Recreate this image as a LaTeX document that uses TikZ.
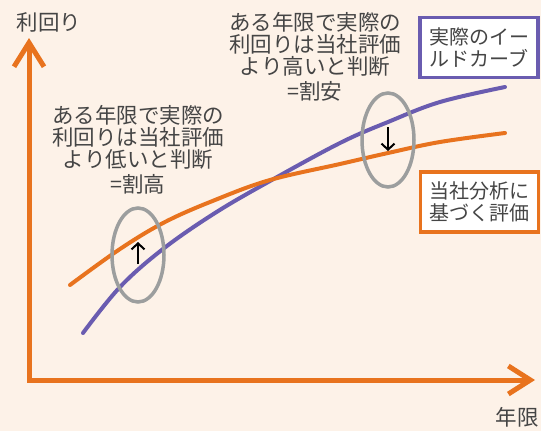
\documentclass[tikz,border=0pt]{standalone}
\usepackage{fontspec}
\setmainfont{Noto Sans CJK JP}
\usetikzlibrary{arrows.meta}
\definecolor{bgc}{HTML}{FDF2E8}
\definecolor{orng}{HTML}{E8731E}
\definecolor{purp}{HTML}{6A5CB0}
\definecolor{ellc}{HTML}{9C9E9E}
\definecolor{txtc}{HTML}{454545}
\tikzset{
  axisline/.style={orng, line width=5pt, line join=miter,
    {Straight Barb[length=24pt,width=30pt]}-{Straight Barb[length=22pt,width=28pt]}},
  curve/.style={line width=4pt, line cap=round},
  ring/.style={draw=ellc, line width=3.5pt, ellipse},
  note/.style={text=txtc, font=\fontsize{21.5}{22}\selectfont, align=center, inner sep=0pt},
  legendbox/.style={fill=white, line width=3.5pt, text=txtc, font=\fontsize{20}{21.5}\selectfont,
    align=center, minimum width=118pt, minimum height=60pt, inner sep=0pt},
  tick/.style={black, line width=2pt, -{Straight Barb[length=6pt,width=13pt]}},
  axlabel/.style={text=txtc, font=\fontsize{21.5}{22}\selectfont, inner sep=0pt}
}
\usetikzlibrary{shapes.geometric}
\begin{document}
\begin{tikzpicture}[x=1pt,y=-1pt]
\fill[bgc] (0,0) rectangle (541,431);
\useasboundingbox (0,0) rectangle (541,431);
% axes
\coordinate (ytop) at (29,38);
\coordinate (xend) at (535,380);
\draw[axisline] (ytop) |- (xend);
\node[axlabel] (ylab) at (49,22) {利回り};
\node[axlabel] (xlab) at (517,417) {年限};
% curves
\draw[curve, purp] plot[smooth, tension=0.6] coordinates {(83,333) (120,287) (163,249) (215,213) (270,181) (340,143) (388,122) (440,102) (505,87)};
\draw[curve, orng] plot[smooth, tension=0.6] coordinates {(70,285) (120,249) (165,222) (215,200) (270,180) (340,164) (388,153) (440,142) (505,133)};
% ellipses
\node[ring, minimum width=52pt, minimum height=94pt] (lring) at (138,255) {};
\node[ring, minimum width=52pt, minimum height=94pt] (rring) at (388,140) {};
% small arrows
\coordinate (la1) at (138,264);
\coordinate (la2) at (138,242);
\draw[tick] (la1) -- (la2);
\coordinate (ra1) at (388,127);
\coordinate (ra2) at (388,151);
\draw[tick] (ra1) -- (ra2);
% notes
\node[note] (lnote) at (138,150) {ある年限で実際の\\利回りは当社評価\\より低いと判断\\[3pt]=割高};
\node[note] (rnote) at (315,57) {ある年限で実際の\\利回りは当社評価\\より高いと判断\\[3pt]=割安};
% legend boxes
\node[legendbox, draw=purp] (pbox) at (479,47.5) {実際のイー\\ルドカーブ};
\node[legendbox, draw=orng] (obox) at (479.5,202) {当社分析に\\基づく評価};
\end{tikzpicture}
\end{document}
